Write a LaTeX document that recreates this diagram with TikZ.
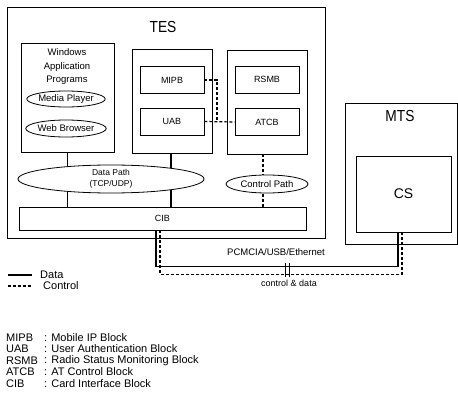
\documentclass[tikz,border=0pt]{standalone}
\usepackage{fontspec}
\setmainfont{Liberation Sans}
\newfontfamily\narrowfont{Liberation Sans}[FakeStretch=0.86]
\usetikzlibrary{shapes.geometric, arrows, positioning, backgrounds}

\begin{document}
\begin{tikzpicture}[x=1pt, y=-1pt,
    box/.style={rectangle, draw=black, line width=0.8pt, inner sep=0pt},
    blk/.style={rectangle, draw=black, line width=0.8pt, fill=white, minimum width=64pt, minimum height=27pt, font=\fontsize{9}{11}\selectfont},
    oval/.style={ellipse, draw=black, line width=0.8pt, fill=white, inner sep=0pt, align=center, font=\fontsize{9.5}{11}\selectfont},
    title/.style={inner sep=0pt, font=\narrowfont\fontsize{16}{18}\selectfont},
    datal/.style={draw=black, line width=1.2pt},
    ctrl/.style={draw=black, line width=1.2pt, densely dashed},
    legtxt/.style={anchor=west, inner sep=0pt, font=\fontsize{11}{12}\selectfont}]

    % Canvas
    \begin{pgfonlayer}{background}
    \fill[white] (0,0) rectangle (458,393);
    \end{pgfonlayer}

    % Terminals
    \node [box, minimum width=318pt, minimum height=231pt] (tes) at (166,122.5) {};
    \node [title] (testitle) at (163,27) {TES};
    \node [box, minimum width=112pt, minimum height=141pt] (mts) at (401,173.5) {};
    \node [title] (mtstitle) at (400,116) {MTS};
    \node [box, fill=white, minimum width=95pt, minimum height=76pt, font=\fontsize{14}{16}\selectfont] (cs) at (403.5,194) {CS};

    % Inner groups
    \node [box, fill=white, minimum width=93pt, minimum height=109pt] (win) at (67.5,97.5) {};
    \node [align=center, inner sep=0pt, font=\fontsize{9.5}{13.5}\selectfont] (wintitle) at (67,67) {Windows\\Application\\Programs};
    \node [oval, minimum width=78pt, minimum height=16pt] (media) at (66,99) {Media Player};
    \node [oval, minimum width=78pt, minimum height=17pt] (web) at (66,128.5) {Web Browser};
    \node [box, fill=white, minimum width=80pt, minimum height=104pt] (mid) at (172,101) {};
    \node [box, fill=white, minimum width=80pt, minimum height=104pt] (rgt) at (267,102) {};

    % Blocks
    \node [blk] (mipb) at (172,80) {MIPB};
    \node [blk] (uab) at (172,121.5) {UAB};
    \node [blk] (rsmb) at (267,79.5) {RSMB};
    \node [blk] (atcb) at (267,122) {ATCB};
    \node [blk, minimum width=287pt, minimum height=23pt] (cib) at (162.5,218.5) {CIB};

    % Paths
    \node [oval, minimum width=186pt, minimum height=28pt, font=\fontsize{8.5}{10.5}\selectfont] (datapath) at (111,179) {Data Path\\(TCP/UDP)};
    \node [oval, minimum width=82pt, minimum height=18pt] (ctrlpath) at (267,184) {Control Path};

    % Links inside TES
    \begin{pgfonlayer}{background}
    \draw [datal] (win.south) -- (win.south |- cib.north);
    \draw [datal] ([xshift=-1pt]mid.south) -- ([xshift=-1pt]mid.south |- cib.north);
    \draw [ctrl] ([xshift=-4pt]rgt.south) -- ([xshift=-4pt]rgt.south |- cib.north);
    \end{pgfonlayer}
    \coordinate (junc) at (217,122);
    \draw [ctrl] (mipb.east) -| (junc);
    \draw [ctrl] (uab.east) -- (atcb.west);

    % Link TES -- MTS
    \draw [datal] ([xshift=-6.5pt]cib.south) -- ++(0,36) -| ([xshift=-5.5pt]cs.south);
    \draw [ctrl] ([xshift=-2.5pt]cib.south) -- ++(0,44) -| ([xshift=-1.5pt]cs.south);
    \coordinate (brk) at (287,270);
    \draw [line width=0.8pt] ([xshift=-2pt, yshift=7pt]brk) -- ([xshift=-2pt, yshift=-7pt]brk)
        ([xshift=2pt, yshift=7pt]brk) -- ([xshift=2pt, yshift=-7pt]brk);
    \node [font=\fontsize{9.5}{11}\selectfont] (linklbl) at (276,252) {PCMCIA/USB/Ethernet};
    \node [font=\fontsize{9}{11}\selectfont] (cdlbl) at (289,283) {control \& data};

    % Legend
    \coordinate (ld) at (8,275);
    \coordinate (lc) at (8,286);
    \draw [datal] (ld) -- ++(24,0);
    \draw [ctrl] (lc) -- ++(24,0);
    \node [legtxt] (ldtxt) at (40,275) {Data};
    \node [legtxt] (lctxt) at (43,286) {Control};

    % Abbreviations
    \foreach \ab/\txt [count=\i] in {MIPB/Mobile IP Block, UAB/User Authentication Block, RSMB/Radio Status Monitoring Block, ATCB/AT Control Block, CIB/Card Interface Block} {
        \node [legtxt] (ab\i) at (6,326+11.5*\i) {\ab};
        \node [legtxt] (df\i) at (44,326+11.5*\i) {: \txt};
    }

\end{tikzpicture}
\end{document}
